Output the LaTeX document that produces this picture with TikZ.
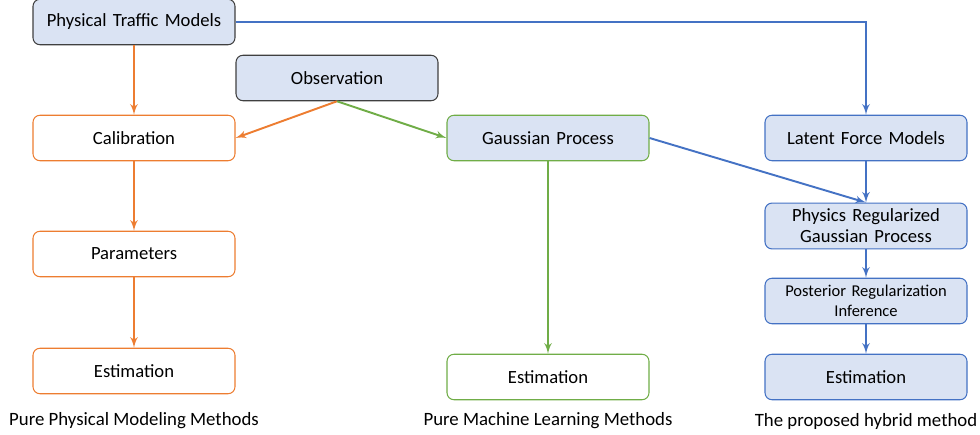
\documentclass[tikz,border=0pt]{standalone}
\usepackage{fontspec}
\setmainfont{Carlito}
\usepackage{tikz}
\usetikzlibrary{shapes,arrows}
\definecolor{boxfill}{HTML}{DAE3F3}
\definecolor{hybblue}{HTML}{4472C4}
\definecolor{physorange}{HTML}{ED7D31}
\definecolor{mlgreen}{HTML}{70AD47}
\definecolor{darkedge}{HTML}{404040}
\tikzstyle{block} = [rectangle, draw, line width=0.6pt, text width=3.8cm, align=center,
    rounded corners=4pt, minimum width=4.04cm, minimum height=0.91cm, font=\fontsize{10.6}{12}\selectfont]
\tikzstyle{source} = [block, fill=boxfill, draw=darkedge]
\tikzstyle{physbox} = [block, fill=white, draw=physorange]
\tikzstyle{mlbox} = [block, draw=mlgreen]
\tikzstyle{hybbox} = [block, fill=boxfill, draw=hybblue]
\tikzstyle{caption} = [font=\fontsize{10.7}{12}\selectfont]
\tikzstyle{line} = [draw, -latex', line width=1.1pt]

\begin{document}
\begin{tikzpicture}
    \useasboundingbox (0,0) rectangle (19.6,-8.7);
    \node [source] (ptm) at (2.68,-0.44) {Physical Traffic Models};
    \node [source] (obs) at (6.74,-1.56) {Observation};
    \node [physbox, below of=ptm, node distance=2.32cm] (cal) {Calibration};
    \node [physbox, below of=cal, node distance=2.32cm] (par) {Parameters};
    \node [physbox, below of=par, node distance=2.34cm] (estphys) {Estimation};
    \node [mlbox, fill=boxfill, right of=cal, node distance=8.28cm] (gp) {Gaussian Process};
    \node [mlbox, fill=white, below of=gp, node distance=4.78cm] (estml) {Estimation};
    \node [hybbox, right of=gp, node distance=6.36cm] (lfm) {Latent Force Models};
    \node [hybbox, below of=lfm, node distance=1.76cm] (prgp) {Physics Regularized\\Gaussian Process};
    \node [hybbox, below of=prgp, node distance=1.5cm, font=\fontsize{9.4}{11.2}\selectfont] (pri) {Posterior Regularization\\Inference};
    \node [hybbox, below of=pri, node distance=1.52cm] (esthyb) {Estimation};
    \node [caption, below of=estphys, node distance=1.0cm] (capphys) {Pure Physical Modeling Methods};
    \node [caption, below of=estml, node distance=0.88cm] (capml) {Pure Machine Learning Methods};
    \node [caption, below of=esthyb, node distance=0.88cm] (caphyb) {The proposed hybrid method};

    \path [line, physorange] (ptm) -- (cal);
    \path [line, physorange] (cal) -- (par);
    \path [line, physorange] (par) -- (estphys);
    \path [line, physorange] (obs.south) -- (cal.east);
    \path [line, mlgreen] (obs.south) -- (gp.west);
    \path [line, mlgreen] (gp) -- (estml);
    \path [line, hybblue] (ptm.east) -| (lfm.north);
    \path [line, hybblue] (gp.east) -- (prgp.north);
    \path [line, hybblue] (lfm) -- (prgp);
    \path [line, hybblue] (prgp) -- (pri);
    \path [line, hybblue] (pri) -- (esthyb);

\end{tikzpicture}
\end{document}
